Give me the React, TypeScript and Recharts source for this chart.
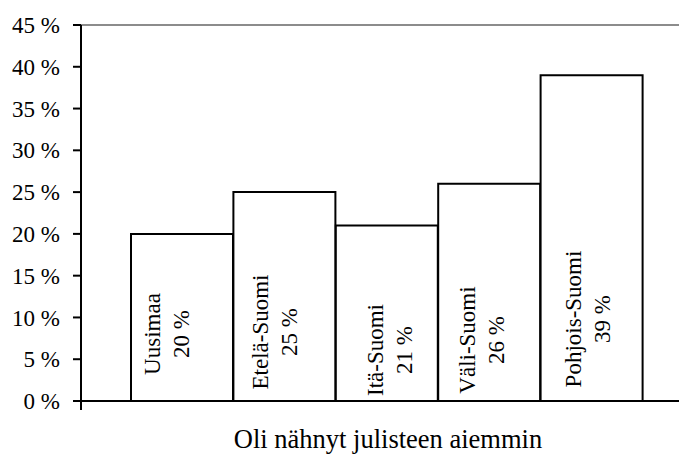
import { BarChart, Bar, XAxis, YAxis, ReferenceLine, LabelList } from 'recharts';

const REGIONS = ['Uusimaa', 'Etelä-Suomi', 'Itä-Suomi', 'Väli-Suomi', 'Pohjois-Suomi'];
const SEEN_PCT = [20, 25, 21, 26, 39];
const Y_TICKS = [0, 5, 10, 15, 20, 25, 30, 35, 40, 45];
const X_TITLE = 'Oli nähnyt julisteen aiemmin';

const W = 679;
const H = 454;
const MARGIN = { top: 25, right: 0, bottom: 0, left: 0 };
const Y_AXIS_W = 81;
const X_AXIS_H = 53;
const FONT = '"Liberation Serif", "Times New Roman", serif';

// hand-placed label nudges in the original (dx from bar centre, dy from bar base)
const LABEL_NUDGE: Array<[number, number]> = [
  [-15, -67],
  [-9, -69],
  [3, -51],
  [-7, -61],
  [-4, -82],
];

const data = REGIONS.map((name, i) => ({ name, value: SEEN_PCT[i] }));

function BarLabel(props: any) {
  const { x, y, width, height, index } = props;
  const [dx, dy] = LABEL_NUDGE[index] ?? [0, -60];
  const mid = Number(x) + Number(width) / 2 + dx;
  const cy = Number(y) + Number(height) + dy;
  const lines = [REGIONS[index], `${SEEN_PCT[index]} %`];
  return (
    <g>
      {lines.map((t, i) => {
        const cx = mid + (i === 0 ? -14.5 : 14.5);
        return (
          <text
            key={i}
            x={cx}
            y={cy}
            transform={`rotate(-90, ${cx}, ${cy})`}
            textAnchor="middle"
            dominantBaseline="central"
            fontFamily={FONT}
            fontSize={23}
            fill="#000"
          >
            {t}
          </text>
        );
      })}
    </g>
  );
}

function XTitle(props: any) {
  const { viewBox } = props;
  const cx = viewBox.x + viewBox.width / 2 + 8;
  return (
    <text x={cx} y={viewBox.y + 47} textAnchor="middle" fontFamily={FONT} fontSize={26.5} fill="#000">
      {X_TITLE}
    </text>
  );
}

export default function App() {
  const baseY = H - X_AXIS_H;
  return (
    <div style={{ position: 'absolute', left: 0, top: 0, width: W, height: H, background: '#fff' }}>
      <BarChart width={W} height={H} data={data} margin={MARGIN} barCategoryGap={0}>
        <XAxis
          dataKey="name"
          height={X_AXIS_H}
          tick={false}
          tickLine={false}
          axisLine={{ stroke: '#000', strokeWidth: 2 }}
          padding={{ left: 50, right: 36 }}
          label={<XTitle />}
        />
        <YAxis
          width={Y_AXIS_W}
          domain={[0, 45]}
          ticks={Y_TICKS}
          interval={0}
          tickFormatter={(v: number) => `${v} %`}
          tickSize={8}
          tickMargin={13}
          tick={{ fontFamily: FONT, fontSize: 23, fill: '#000' }}
          tickLine={{ stroke: '#000', strokeWidth: 2 }}
          axisLine={{ stroke: '#000', strokeWidth: 2 }}
        />
        <ReferenceLine y={45} stroke="#8c8c8c" strokeWidth={2} />
        <Bar dataKey="value" fill="#fff" stroke="#000" strokeWidth={2} isAnimationActive={false}>
          <LabelList dataKey="value" content={<BarLabel />} />
        </Bar>
        <line x1={Y_AXIS_W} y1={baseY} x2={Y_AXIS_W} y2={baseY + 9} stroke="#000" strokeWidth={2} />
      </BarChart>
    </div>
  );
}
